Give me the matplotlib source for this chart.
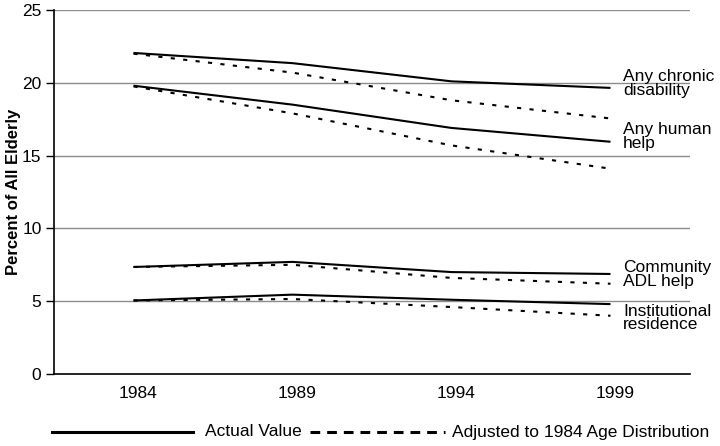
import matplotlib
matplotlib.use("Agg")
import matplotlib.pyplot as plt
from matplotlib.lines import Line2D

plt.rcParams['font.family'] = ['Liberation Sans', 'DejaVu Sans']
plt.rcParams['lines.scale_dashes'] = False

years = ["1984", "1989", "1994", "1999"]
series_labels = ["Any chronic\ndisability", "Any human\nhelp", "Community\nADL help", "Institutional\nresidence"]
actual = [
    [22.05, 21.35, 20.1, 19.65],
    [19.8, 18.5, 16.9, 15.95],
    [7.35, 7.7, 7.0, 6.87],
    [5.05, 5.45, 5.1, 4.8],
]
adjusted = [
    [22.0, 20.7, 18.8, 17.55],
    [19.75, 17.9, 15.7, 14.1],
    [7.35, 7.5, 6.6, 6.2],
    [5.05, 5.15, 4.6, 4.0],
]
label_y = [19.95, 16.3, 6.85, 3.85]
yticks = [0, 5, 10, 15, 20, 25]

fig = plt.figure(figsize=(7.2, 4.46), dpi=100)
ax = fig.add_axes([54/720, 1-374/446, (690-54)/720, (374-10)/446])

x = list(range(len(years)))
for a, d in zip(actual, adjusted):
    ax.plot(x, a, color='black', lw=1.5, solid_capstyle='butt')
    ax.plot(x, d, color='black', lw=1.5, dashes=(3, 6))

for lab, yv in zip(series_labels, label_y):
    ax.text(3.08, yv, lab, fontsize=12.5, va='center', ha='left', linespacing=0.9)

ax.set_xlim(-0.5, 3.5)
ax.set_ylim(0, 25)
ax.set_yticks(yticks)
ax.set_xticks([xi + 0.03 for xi in x])
ax.set_xticklabels(years, fontsize=12.5)
ax.tick_params(axis='x', length=0, pad=9)
ax.tick_params(axis='y', labelsize=12.5, length=6, width=1, direction='out', pad=3)
for yt in yticks[1:]:
    ax.axhline(yt, color='#8c8c8c', lw=1, zorder=0)
ax.spines['top'].set_visible(False)
ax.spines['right'].set_visible(False)
ax.spines['left'].set_linewidth(1.2)
ax.spines['bottom'].set_linewidth(1.2)
ax.set_ylabel("Percent of All Elderly", fontsize=12, fontweight='bold')
ax.yaxis.set_label_coords(-0.052, 0.5)

ly = 1 - 432/446
fig.add_artist(Line2D([52/720, 193/720], [ly, ly], color='black', lw=2.2))
fig.text(205/720, ly, "Actual Value", fontsize=12.5, va='center', ha='left')
fig.add_artist(Line2D([310/720, 445/720], [ly, ly], color='black', lw=2.2, dashes=(7, 5)))
fig.text(452/720, ly, "Adjusted to 1984 Age Distribution", fontsize=12.5, va='center', ha='left')

fig.savefig("out.png", dpi=100)
